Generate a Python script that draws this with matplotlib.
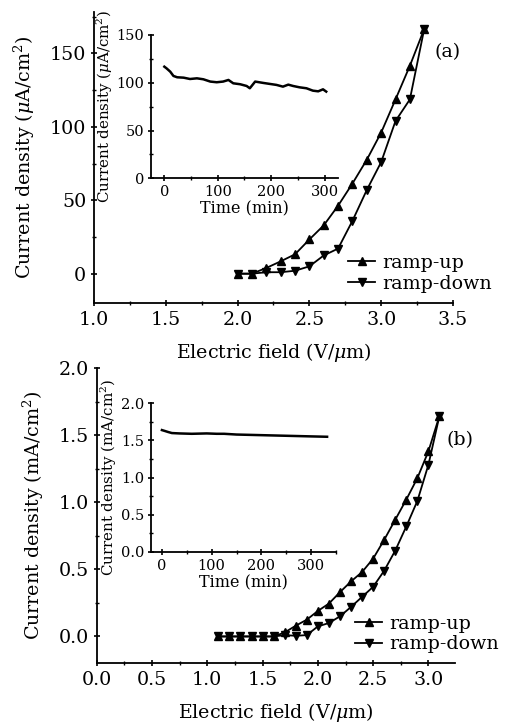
import numpy as np
import matplotlib
matplotlib.use("Agg")
import matplotlib.pyplot as plt
from matplotlib.ticker import MultipleLocator, FormatStrFormatter

plt.rcParams["font.family"] = ["DejaVu Serif"]
plt.rcParams["mathtext.fontset"] = "custom"
plt.rcParams["mathtext.rm"] = "DejaVu Serif"
plt.rcParams["mathtext.it"] = "DejaVu Serif:italic"

# (a) field emission, ramp-up / ramp-down
field_a = [2.0, 2.1, 2.2, 2.3, 2.4, 2.5, 2.6, 2.7, 2.8, 2.9, 3.0, 3.1, 3.2, 3.3]
up_a = [0, 0, 3.9, 8.4, 13.2, 23.3, 32.9, 46.3, 61.4, 77.6, 96.1, 118.7, 141.6, 166.7]
down_a = [0, 0, 1, 1, 2, 5, 12.4, 17.1, 36, 57, 76, 104, 118.7, 166.7]

# (a) inset: stability
time_a = [0, 4, 11, 17, 24, 36, 48, 61, 73, 86, 98, 110, 120, 129, 142, 154, 160,
          170, 185, 198, 210, 222, 232, 241, 253, 266, 278, 288, 297, 303]
stab_a = [116.8, 115.1, 111.6, 107.1, 105.7, 105.3, 103.9, 104.6, 103.6, 101.2,
          100.5, 101.2, 102.9, 99.4, 98.4, 96.6, 94.2, 101.2, 99.8, 98.7, 97.7,
          95.9, 98.0, 96.6, 95.2, 94.2, 91.7, 91.0, 93.1, 90.7]

# (b) field emission
field_b = [1.1, 1.2, 1.3, 1.4, 1.5, 1.6, 1.7, 1.8, 1.9, 2.0, 2.1, 2.2, 2.3, 2.4,
           2.5, 2.6, 2.7, 2.8, 2.9, 3.0, 3.1]
up_b = [0, 0, 0, 0, 0, 0, 0.03, 0.08, 0.125, 0.19, 0.245, 0.33, 0.41, 0.48,
        0.58, 0.72, 0.87, 1.02, 1.18, 1.38, 1.645]
down_b = [0, 0, 0, 0, 0, 0, 0.01, 0.005, 0.01, 0.075, 0.10, 0.15, 0.22, 0.295,
          0.37, 0.49, 0.64, 0.82, 1.01, 1.28, 1.645]

# (b) inset
time_b = [0, 5, 12, 20, 35, 60, 90, 110, 125, 150, 180, 210, 240, 270, 300, 332]
stab_b = [1.64, 1.63, 1.615, 1.60, 1.595, 1.59, 1.595, 1.59, 1.59, 1.58, 1.575,
          1.57, 1.565, 1.56, 1.555, 1.55]

FS = 13.7
fig = plt.figure(figsize=(5.07, 7.25), dpi=100)


def style(ax, size, major=5, minor=3):
    ax.spines["top"].set_visible(False)
    ax.spines["right"].set_visible(False)
    for s in ("left", "bottom"):
        ax.spines[s].set_linewidth(1.3)
    ax.tick_params(which="major", direction="inout", length=major, width=1.2,
                   labelsize=size, pad=3)
    ax.tick_params(which="minor", direction="inout", length=minor, width=1.0)


def main_panel(rect, x, up, down, xlim, ylim, xstep, ystep, ylabel, tag, tagpos, legpos):
    ax = fig.add_axes(rect)
    ax.plot(x, up, "-^", color="black", lw=1.3, ms=6, label="ramp-up")
    ax.plot(x, down, "-v", color="black", lw=1.3, ms=6, label="ramp-down")
    ax.set_xlim(*xlim)
    ax.set_ylim(*ylim)
    ax.xaxis.set_major_locator(MultipleLocator(xstep))
    ax.xaxis.set_minor_locator(MultipleLocator(xstep / 2))
    ax.yaxis.set_major_locator(MultipleLocator(ystep))
    ax.yaxis.set_minor_locator(MultipleLocator(ystep / 2))
    ax.xaxis.set_major_formatter(FormatStrFormatter("%.1f"))
    style(ax, FS)
    ax.set_xlabel(r"Electric field (V/$\mu$m)", fontsize=FS, labelpad=9)
    ax.set_ylabel(ylabel, fontsize=FS, labelpad=9)
    fig.text(tagpos[0], tagpos[1], tag, fontsize=FS, ha="center", va="center")
    ax.legend(loc="center left", bbox_to_anchor=legpos, bbox_transform=fig.transFigure,
              frameon=False, fontsize=FS, handlelength=1.45, handletextpad=0.35,
              labelspacing=0.15, borderpad=0, borderaxespad=0, markerscale=0.85)
    return ax


ax1 = main_panel([0.1854, 0.582, 0.708, 0.401], field_a, up_a, down_a,
                 (1.0, 3.5), (-20, 178), 0.5, 50,
                 r"Current density ($\mu$A/cm$^2$)", "(a)",
                 (448 / 507, 1 - 52 / 725), (0.686, 0.6228))
ax1.yaxis.set_major_formatter(FormatStrFormatter("%d"))

ax2 = main_panel([0.1907, 0.0851, 0.7067, 0.4073], field_b, up_b, down_b,
                 (0, 3.24), (-0.2, 2.0), 0.5, 0.5,
                 r"Current density (mA/cm$^2$)", "(b)",
                 (460 / 507, 1 - 440 / 725), (0.700, 0.1255))
ax2.yaxis.set_major_formatter(FormatStrFormatter("%.1f"))


def inset(rect, t, v, xlim, ylim, ystep, ylabel, fmt):
    ax = fig.add_axes(rect)
    ax.plot(t, v, color="black", lw=1.8)
    ax.set_xlim(*xlim)
    ax.set_ylim(*ylim)
    ax.xaxis.set_major_locator(MultipleLocator(100))
    ax.xaxis.set_minor_locator(MultipleLocator(50))
    ax.yaxis.set_major_locator(MultipleLocator(ystep))
    ax.yaxis.set_minor_locator(MultipleLocator(ystep / 2))
    ax.yaxis.set_major_formatter(FormatStrFormatter(fmt))
    style(ax, 10.5, major=4, minor=2.5)
    ax.set_xlabel("Time (min)", fontsize=11.5, labelpad=1)
    ax.set_ylabel(ylabel, fontsize=10.8, labelpad=1)
    return ax


inset([0.2978, 0.7541, 0.3688, 0.1977], time_a, stab_a, (-25, 325), (0, 150), 50,
      r"Current density ($\mu$A/cm$^2$)", "%d")
inset([0.2978, 0.239, 0.365, 0.2046], time_b, stab_b, (-22, 350), (0, 2.0), 0.5,
      r"Current density (mA/cm$^2$)", "%.1f")

fig.savefig("out.png", dpi=100)
